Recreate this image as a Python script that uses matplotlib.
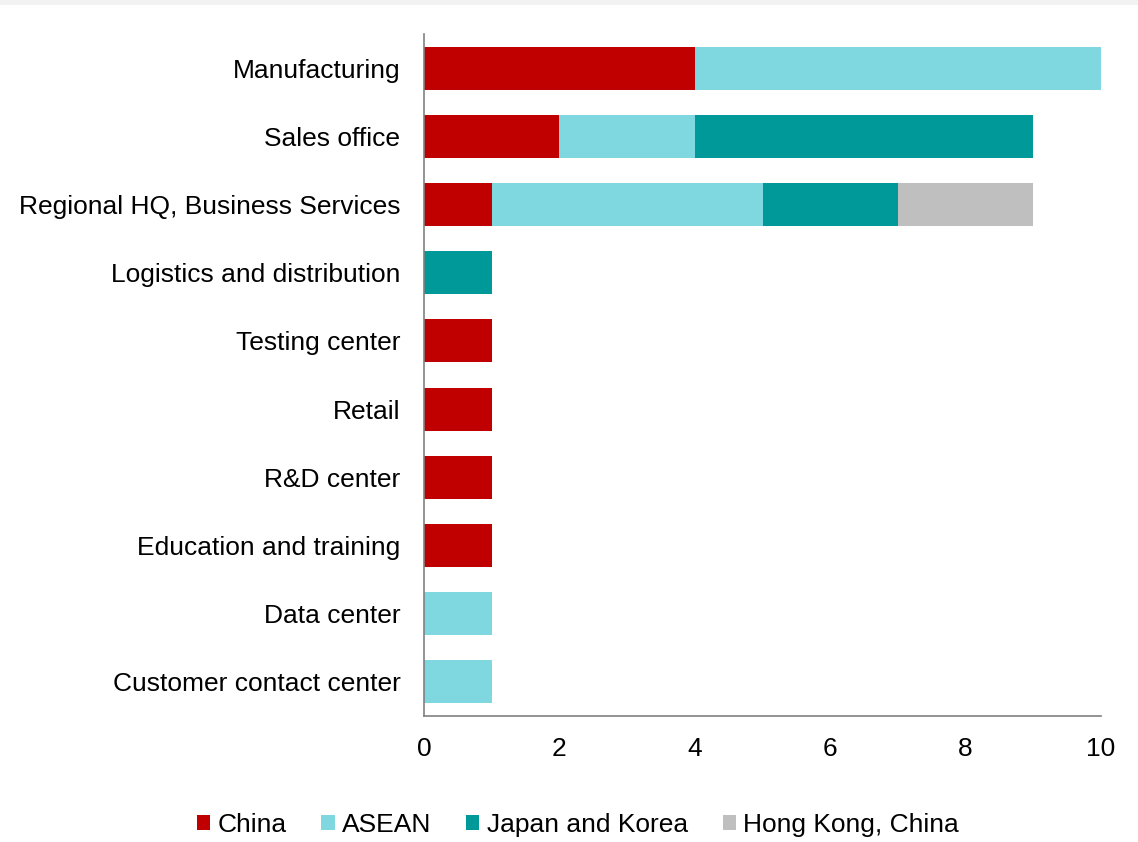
import matplotlib
matplotlib.use("Agg")
import matplotlib.pyplot as plt
from matplotlib.patches import Rectangle, Patch

plt.rcParams['font.family'] = ['Liberation Sans', 'DejaVu Sans']

categories = [
    "Manufacturing",
    "Sales office",
    "Regional HQ, Business Services",
    "Logistics and distribution",
    "Testing center",
    "Retail",
    "R&D center",
    "Education and training",
    "Data center",
    "Customer contact center",
]
series_names = ["China", "ASEAN", "Japan and Korea", "Hong Kong, China"]
china = [4, 2, 1, 0, 1, 1, 1, 1, 0, 0]
asean = [6, 2, 4, 0, 0, 0, 0, 0, 1, 1]
japan_korea = [0, 5, 2, 1, 0, 0, 0, 0, 0, 0]
hong_kong = [0, 0, 2, 0, 0, 0, 0, 0, 0, 0]
x_ticks = [0, 2, 4, 6, 8, 10]

colors = ["#C00000", "#7FD7E0", "#009999", "#BFBFBF"]

fig = plt.figure(figsize=(11.38, 8.42), dpi=100)
fig.patches.append(Rectangle((0, 1 - 5 / 842), 1, 5 / 842, transform=fig.transFigure,
                             facecolor="#F2F2F2", edgecolor="none", zorder=0))

ax = fig.add_axes([424 / 1138, 1 - 716 / 842, (1101 - 424) / 1138, (716 - 34) / 842])

ypos = list(range(len(categories)))
left = [0.0] * len(categories)
for vals, name, col in zip([china, asean, japan_korea, hong_kong], series_names, colors):
    bars = ax.barh(ypos, vals, left=left, height=0.63, color=col, label=name, zorder=2)
    for b in bars:
        b.set_clip_on(False)
    left = [l + v for l, v in zip(left, vals)]

ax.set_ylim(len(categories) - 0.5, -0.5)
ax.set_xlim(0, 10)
ax.set_yticks(ypos)
ax.set_yticklabels(categories, fontsize=19)
ax.set_xticks(x_ticks)
ax.set_xticklabels([str(t) for t in x_ticks], fontsize=19)
ax.tick_params(axis="both", length=0)
ax.tick_params(axis="y", pad=17)
ax.tick_params(axis="x", pad=15)
for s in ["top", "right"]:
    ax.spines[s].set_visible(False)
for s in ["left", "bottom"]:
    ax.spines[s].set_color("#808080")
    ax.spines[s].set_linewidth(1.2)

handles = [Patch(facecolor=c, edgecolor="none") for c in colors]
fig.legend(handles, series_names, loc="center", bbox_to_anchor=(578 / 1138, 1 - 825 / 842),
           ncol=4, frameon=False, fontsize=19, handlelength=0.5, handleheight=0.5,
           handletextpad=0.28, columnspacing=1.32)

fig.savefig("out.png", dpi=100)
